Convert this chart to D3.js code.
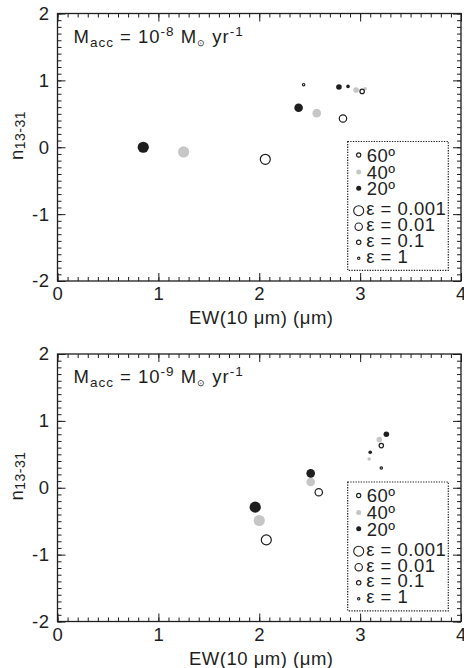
<!DOCTYPE html>
<html>
<head>
<meta charset="utf-8">
<script src="https://cdn.jsdelivr.net/npm/d3@7"></script>
<style>
  body { margin: 0; background: #fff; }
  text { font-family: "Liberation Sans", Arial, Helvetica, sans-serif; fill: #1e1e1e; letter-spacing: 0.5px; }
</style>
</head>
<body>
<svg id="chart" width="464" height="668"></svg>
<script>
// Категории
const angles = ["60º", "40º", "20º"];
const epsilons = [0.001, 0.01, 0.1, 1];
const epsLabels = ["ε = 0.001", "ε = 0.01", "ε = 0.1", "ε = 1"];
const xTicks = [0, 1, 2, 3, 4];
const yTicks = [-2, -1, 0, 1, 2];
const accExp = ["-8", "-9"];

// Macc = 1e-8 (значения по ε = 0.001, 0.01, 0.1, 1)
const ew8_20 = [0.85, 2.39, 2.79, 2.88];
const n8_20 = [0.00, 0.59, 0.90, 0.91];
const ew8_40 = [1.25, 2.57, 2.96, 3.05];
const n8_40 = [-0.07, 0.51, 0.855, 0.875];
const ew8_60 = [2.06, 2.83, 3.02, 2.44];
const n8_60 = [-0.18, 0.43, 0.835, 0.935];

// Macc = 1e-9
const ew9_20 = [1.96, 2.51, 3.26, 3.10];
const n9_20 = [-0.29, 0.215, 0.80, 0.53];
const ew9_40 = [2.00, 2.51, 3.19, 3.09];
const n9_40 = [-0.49, 0.087, 0.72, 0.43];
const ew9_60 = [2.07, 2.59, 3.21, 3.21];
const n9_60 = [-0.78, -0.067, 0.63, 0.295];

const panels = [
  { exp: accExp[0], series: { "20º": [ew8_20, n8_20], "40º": [ew8_40, n8_40], "60º": [ew8_60, n8_60] } },
  { exp: accExp[1], series: { "20º": [ew9_20, n9_20], "40º": [ew9_40, n9_40], "60º": [ew9_60, n9_60] } }
];

const svg = d3.select("#chart");
const left = 57.5, right = 461, w = right - left, h = 267.5;
const tops = [13.5, 354];
const fs = 18.5;

const dark = "#1e1e1e", gray = "#c6c6c6";
const fillOf = d3.scaleOrdinal().domain(angles).range(["#fff", gray, dark]);
const strokeOf = d3.scaleOrdinal().domain(angles).range([dark, "none", "none"]);
const rOf = d3.scaleOrdinal().domain(epsilons).range([5.6, 4.3, 2.8, 1.8]);

const x = d3.scaleLinear().domain([0, 4]).range([0, w]);
const y = d3.scaleLinear().domain([-2, 2]).range([h, 0]);
const minorX = d3.range(41).map(i => i / 10);
const minorY = d3.range(41).map(i => -2 + i / 10);

function styleAxis(sel) {
  sel.select(".domain").remove();
  sel.attr("font-family", null).attr("font-size", fs);
  sel.selectAll("line").attr("stroke", dark).attr("stroke-width", 1);
  sel.selectAll("text").attr("fill", dark);
}

panels.forEach((p, pi) => {
  const g = svg.append("g").attr("transform", `translate(${left},${tops[pi]})`);

  // малые и большие деления на всех четырёх сторонах (внутрь)
  g.append("g").attr("transform", `translate(0,${h})`)
    .call(d3.axisBottom(x).tickValues(minorX).tickSize(-4).tickFormat("")).call(styleAxis);
  g.append("g").attr("transform", `translate(0,${h})`)
    .call(d3.axisBottom(x).tickValues(xTicks).tickSize(-8).tickPadding(6).tickFormat(d => String(d))).call(styleAxis);
  g.append("g")
    .call(d3.axisTop(x).tickValues(minorX).tickSize(-4).tickFormat("")).call(styleAxis);
  g.append("g")
    .call(d3.axisTop(x).tickValues(xTicks).tickSize(-8).tickFormat("")).call(styleAxis);
  g.append("g")
    .call(d3.axisLeft(y).tickValues(minorY).tickSize(-4).tickFormat("")).call(styleAxis);
  g.append("g")
    .call(d3.axisLeft(y).tickValues(yTicks).tickSize(-8).tickPadding(8).tickFormat(d => String(d))).call(styleAxis);
  g.append("g").attr("transform", `translate(${w},0)`)
    .call(d3.axisRight(y).tickValues(minorY).tickSize(-4).tickFormat("")).call(styleAxis);
  g.append("g").attr("transform", `translate(${w},0)`)
    .call(d3.axisRight(y).tickValues(yTicks).tickSize(-8).tickFormat("")).call(styleAxis);

  // рамка
  g.append("rect").attr("width", w).attr("height", h)
    .attr("fill", "none").attr("stroke", dark).attr("stroke-width", 1.3);

  // точки
  ["40º", "20º", "60º"].forEach(a => {
    const [xs, ys] = p.series[a];
    const pts = epsilons.map((e, i) => ({ e, a, x: xs[i], y: ys[i] }));
    g.selectAll(null).data(pts).enter().append("circle")
      .attr("cx", d => x(d.x))
      .attr("cy", d => y(d.y))
      .attr("r", d => a === "60º" ? rOf(d.e) - 0.6 : rOf(d.e))
      .attr("fill", fillOf(a))
      .attr("stroke", strokeOf(a))
      .attr("stroke-width", 1.2);
  });

  // подпись Macc
  const ann = g.append("text").attr("x", 16).attr("y", 29).attr("font-size", fs)
    .style("letter-spacing", "1px");
  ann.append("tspan").text("M");
  ann.append("tspan").attr("font-size", 13.5).attr("dy", 4).text("acc");
  ann.append("tspan").attr("dy", -4).text(" = 10");
  ann.append("tspan").attr("font-size", 13.5).attr("dy", -7).text(p.exp);
  ann.append("tspan").attr("dy", 7).text(" M");
  ann.append("tspan").attr("font-size", 9).attr("dy", 3).text("⊙");
  ann.append("tspan").attr("dy", -3).text(" yr");
  ann.append("tspan").attr("font-size", 13.5).attr("dy", -7).text("-1");

  // подписи осей
  g.append("text").attr("x", x(2) + 2).attr("y", h + 43).attr("text-anchor", "middle")
    .attr("font-size", fs).text("EW(10 μm) (μm)");
  const yl = g.append("text").attr("transform", `translate(${22.7 - left},${146.5}) rotate(-90)`)
    .attr("font-size", fs);
  yl.append("tspan").text("n");
  yl.append("tspan").attr("font-size", 14).attr("dy", 2).text("13-31");

  // легенда
  const lg = g.append("g").attr("transform", "translate(290.2,128)");
  lg.append("rect").attr("width", 100.6).attr("height", 128.8)
    .attr("fill", "#fff").attr("stroke", dark).attr("stroke-width", 1.2)
    .attr("stroke-dasharray", "1.3,1.3");
  const rowsA = [13.5, 30.5, 46.8];
  angles.forEach((a, i) => {
    lg.append("circle").attr("cx", 11).attr("cy", rowsA[i])
      .attr("r", a === "60º" ? 2.1 : 2.5)
      .attr("fill", fillOf(a)).attr("stroke", strokeOf(a)).attr("stroke-width", 1.1);
    lg.append("text").attr("x", 19).attr("y", rowsA[i] + 6.7).attr("font-size", fs).text(a);
  });
  const rowsE = [69.2, 85.2, 100.8, 116.8];
  epsilons.forEach((e, i) => {
    lg.append("circle").attr("cx", 11).attr("cy", rowsE[i]).attr("r", rOf(e) - 0.6)
      .attr("fill", "#fff").attr("stroke", dark).attr("stroke-width", 1.1);
    lg.append("text").attr("x", 18.5).attr("y", rowsE[i] + 4.5).attr("font-size", fs).text(epsLabels[i]);
  });
});
</script>
</body>
</html>
